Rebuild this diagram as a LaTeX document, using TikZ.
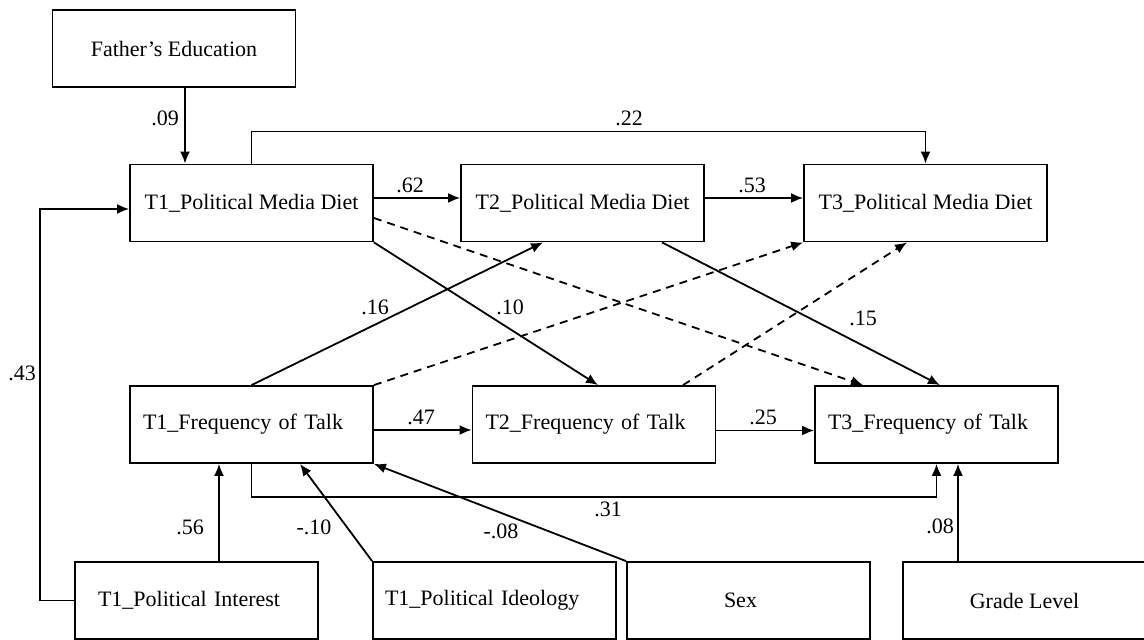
\documentclass[tikz,border=0pt]{standalone}
\usepackage{fontspec}
\setmainfont{Liberation Serif}
\usetikzlibrary{positioning,arrows.meta,calc}

\begin{document}
\begin{tikzpicture}[x=0.5pt, y=-0.5pt, font=\fontsize{11}{13}\selectfont,
  box/.style={draw, line width=0.9pt, minimum width=121.5pt, minimum height=38.5pt, inner sep=0pt},
  leftbox/.style={box, align=left, inner xsep=#1, text width=121.5pt-2*#1},
  link/.style={-{Latex[length=6pt,width=5pt]}, line width=0.9pt},
  dlink/.style={link, dash pattern=on 4pt off 3pt}]

  \useasboundingbox (0,0) rectangle (1144,640);

  % Boxes of the model
  \node (fathered) [box] at (174,48.5) {Father's Education};
  \node (media1) [box] at (251.5,203) {T1\_Political Media Diet};
  \node (media2) [box] at (582.5,203) {T2\_Political Media Diet};
  \node (media3) [box] at (925.5,203) {T3\_Political Media Diet};
  \node (talk1) [leftbox=6.5pt] at (251.5,424.5) {T1\_Frequency of Talk};
  \node (talk2) [leftbox=6.5pt] at (594,424.5) {T2\_Frequency of Talk};
  \node (talk3) [leftbox=6.5pt] at (936.5,424.5) {T3\_Frequency of Talk};
  \node (interest) [leftbox=11.5pt] at (196.5,600.5) {T1\_Political Interest};
  \node (ideology) [leftbox=6pt] at (494.5,600.5) {T1\_Political Ideology};
  \node (sex) [box] at (748.5,600.5) {\hspace*{-8pt}Sex};
  \node (grade) [box] at (1024.5,600.5) {Grade Level};

  % Paths between the boxes
  \draw[link] ([xshift=5.5pt]fathered.south) -- ([xshift=5.5pt]fathered.south |- media1.north);
  \draw[link] (media1.north) -- ++(0,-32) -| (media3.north);
  \draw[link] ([yshift=2.5pt]media1.east) -- ([yshift=2.5pt]media2.west);
  \draw[link] ([yshift=2.5pt]media2.east) -- ([yshift=2.5pt]media3.west);
  \draw[link] ([yshift=-2.75pt]talk1.east) -- ([yshift=-2.75pt]talk2.west);
  \draw[link] ([yshift=-3pt]talk2.east) -- ([yshift=-3pt]talk3.west);
  \draw[link] (talk1.north) -- ([xshift=-19.75pt]media2.south);
  \draw[link] (media1.south east) -- ([xshift=2pt]talk2.north);
  \draw[link] ([xshift=39.75pt]media2.south) -- ([xshift=1.75pt]talk3.north);
  \draw[dlink] ([yshift=-7.5pt]media1.east) -- ([xshift=-36.75pt]talk3.north);
  \draw[dlink] (talk1.north east) -- (media3.south west);
  \draw[dlink] ([xshift=44.5pt]talk2.north) -- ([xshift=-9.25pt]media3.south);
  \draw[link] (talk1.south) -- ++(0,33) -| (talk3.south);
  \draw[link] (interest.west) -- ++(-34,0) |- ([yshift=-3pt]media1.west);
  \draw[link] ([xshift=11.25pt]interest.north) -- ([xshift=11.25pt]interest.north |- talk1.south);
  \draw[link] (ideology.north west) -- ([xshift=24.25pt]talk1.south);
  \draw[link] (sex.north west) -- (talk1.south east);
  \draw[link] ([xshift=-33.25pt]grade.north) -- ([xshift=-33.25pt]grade.north |- talk3.south);

  % Path coefficients
  \node (w09) at (165,118) {.09};
  \node (w22) at (629,118) {.22};
  \node (w62) at (410,185) {.62};
  \node (w53) at (752,185) {.53};
  \node (w16) at (375,307) {.16};
  \node (w10) at (510,307) {.10};
  \node (w15) at (863,318) {.15};
  \node (w47) at (421,417) {.47};
  \node (w25) at (763,417) {.25};
  \node (w43) at (22,373) {.43};
  \node (w56) at (190,527) {.56};
  \node (w10n) at (314,527) {-.10};
  \node (w08n) at (501,531) {-.08};
  \node (w31) at (608,509) {.31};
  \node (w08) at (940,526) {.08};

\end{tikzpicture}
\end{document}
